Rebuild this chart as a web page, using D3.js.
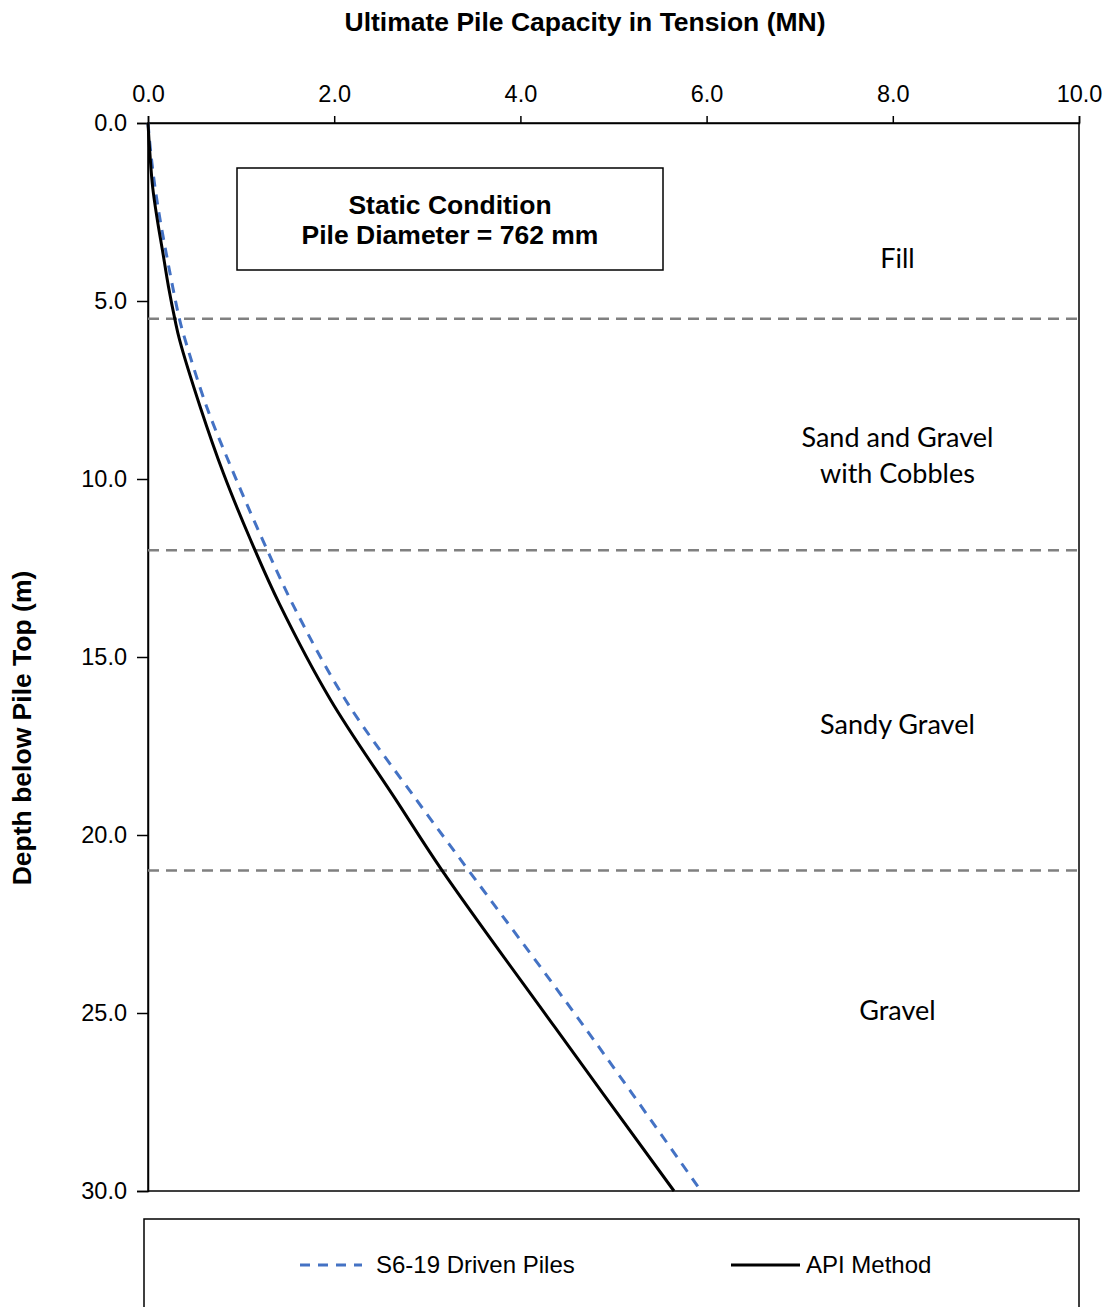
<!DOCTYPE html>
<html>
<head>
<meta charset="utf-8">
<script src="https://cdn.jsdelivr.net/npm/d3@7"></script>
<style>
  html, body { margin: 0; padding: 0; background: #fff; }
  svg { display: block; }
</style>
</head>
<body>
<svg id="chart" width="1106" height="1307"></svg>
<script>
// Ultimate pile capacity in tension versus depth below pile top
const xTicks = [0, 2, 4, 6, 8, 10];
const yTicks = [0, 5, 10, 15, 20, 25, 30];

// S6-19 driven piles method
const s6Depth = [0, 0.84, 1.8, 2.72, 3.65, 4.6, 5.53, 6.1, 7.97, 9.84, 11.7, 13.6, 16.2, 19.0, 20.7, 25.4, 30.0];
const s6Capacity = [0, 0.03, 0.075, 0.13, 0.195, 0.265, 0.34, 0.40, 0.63, 0.92, 1.23, 1.57, 2.12, 2.88, 3.36, 4.69, 5.94];

// API method
const apiDepth = [0, 0.84, 1.8, 2.72, 3.65, 4.6, 5.53, 6.1, 7.97, 9.84, 11.7, 13.5, 16.2, 19.0, 21.0, 25.4, 30.0];
const apiCapacity = [0, 0.02, 0.05, 0.10, 0.16, 0.22, 0.29, 0.34, 0.56, 0.81, 1.10, 1.41, 1.96, 2.66, 3.16, 4.37, 5.65];

// Soil layer boundaries and names
const layerBounds = [5.5, 12.0, 21.0];
const layerNames = [["Fill"], ["Sand and Gravel", "with Cobbles"], ["Sandy Gravel"], ["Gravel"]];
const layerLabelDepth = [3.82, 9.35, 16.9, 24.94];
const layerLabelX = 8.05;

const svg = d3.select("#chart");
const plotL = 148, plotR = 1079, plotT = 123, plotB = 1191;

const x = d3.scaleLinear().domain([0, 10]).range([plotL, plotR]);
const y = d3.scaleLinear().domain([0, 30]).range([plotT, plotB]);

const fontArial = "'Liberation Sans', Arial, sans-serif";
const fontBody = "Lato, 'Open Sans', sans-serif";

// Plot frame
svg.append("rect")
  .attr("x", plotL).attr("y", plotT)
  .attr("width", plotR - plotL).attr("height", plotB - plotT)
  .attr("fill", "none").attr("stroke", "#000").attr("stroke-width", 1.5);

// Axes
const xAxis = svg.append("g")
  .attr("transform", `translate(0,${plotT})`)
  .call(d3.axisTop(x).tickValues(xTicks).tickFormat(d3.format(".1f")).tickSize(7).tickPadding(14));
const yAxis = svg.append("g")
  .attr("transform", `translate(${plotL},0)`)
  .call(d3.axisLeft(y).tickValues(yTicks).tickFormat(d3.format(".1f")).tickSize(11).tickPadding(10));
[xAxis, yAxis].forEach(g => {
  g.select(".domain").attr("stroke", "#000").attr("stroke-width", 1.5);
  g.selectAll(".tick line").attr("stroke", "#000").attr("stroke-width", 1.5);
  g.selectAll(".tick text").attr("fill", "#000")
    .style("font-family", fontArial).style("font-size", "23.5px");
});

// Layer boundaries
svg.append("g").selectAll("line").data(layerBounds).join("line")
  .attr("x1", plotL).attr("x2", plotR)
  .attr("y1", d => y(d)).attr("y2", d => y(d))
  .attr("stroke", "#808080").attr("stroke-width", 2.5)
  .attr("stroke-dasharray", "11,7");

// Layer names
layerNames.forEach((lines, i) => {
  const t = svg.append("text")
    .attr("x", x(layerLabelX)).attr("y", y(layerLabelDepth[i]))
    .attr("text-anchor", "middle")
    .style("font-family", fontBody).style("font-size", "27px").attr("fill", "#000");
  const n = lines.length;
  lines.forEach((s, k) => {
    t.append("tspan").attr("x", x(layerLabelX))
      .attr("dy", k === 0 ? `${0.35 - (n - 1) * 0.665}em` : "1.33em")
      .text(s);
  });
});

// Curves
const line = d3.line().curve(d3.curveCatmullRom.alpha(0.5));
const s6Pts = s6Depth.map((d, i) => [x(s6Capacity[i]), y(d)]);
const apiPts = apiDepth.map((d, i) => [x(apiCapacity[i]), y(d)]);

svg.append("path").attr("d", line(s6Pts))
  .attr("fill", "none").attr("stroke", "#4472C4").attr("stroke-width", 3)
  .attr("stroke-dasharray", "10,8");
svg.append("path").attr("d", line(apiPts))
  .attr("fill", "none").attr("stroke", "#000").attr("stroke-width", 3);

// Condition box
svg.append("rect")
  .attr("x", 237).attr("y", 168).attr("width", 426).attr("height", 102)
  .attr("fill", "#fff").attr("stroke", "#000").attr("stroke-width", 1.5);
svg.append("text").attr("x", 450).attr("y", 214).attr("text-anchor", "middle")
  .style("font-family", fontArial).style("font-size", "26.5px").style("font-weight", "bold")
  .text("Static Condition");
svg.append("text").attr("x", 450).attr("y", 244).attr("text-anchor", "middle")
  .style("font-family", fontArial).style("font-size", "26.5px").style("font-weight", "bold")
  .text("Pile Diameter = 762 mm");

// Axis titles
svg.append("text").attr("x", 585).attr("y", 31).attr("text-anchor", "middle")
  .style("font-family", fontArial).style("font-size", "26.5px").style("font-weight", "bold")
  .text("Ultimate Pile Capacity in Tension (MN)");
svg.append("text").attr("transform", "translate(31,728) rotate(-90)").attr("text-anchor", "middle")
  .style("font-family", fontArial).style("font-size", "26.5px").style("font-weight", "bold")
  .text("Depth below Pile Top (m)");

// Legend
svg.append("rect")
  .attr("x", 144).attr("y", 1219).attr("width", 935).attr("height", 110)
  .attr("fill", "#fff").attr("stroke", "#000").attr("stroke-width", 1.5);
const legend = [
  { name: "S6-19 Driven Piles", color: "#4472C4", dash: "10,8", x0: 300, x1: 362, tx: 376 },
  { name: "API Method", color: "#000", dash: null, x0: 731, x1: 800, tx: 806 }
];
legend.forEach(l => {
  svg.append("line").attr("x1", l.x0).attr("x2", l.x1).attr("y1", 1265).attr("y2", 1265)
    .attr("stroke", l.color).attr("stroke-width", 3).attr("stroke-dasharray", l.dash);
  svg.append("text").attr("x", l.tx).attr("y", 1273)
    .style("font-family", fontArial).style("font-size", "24px").text(l.name);
});
</script>
</body>
</html>
